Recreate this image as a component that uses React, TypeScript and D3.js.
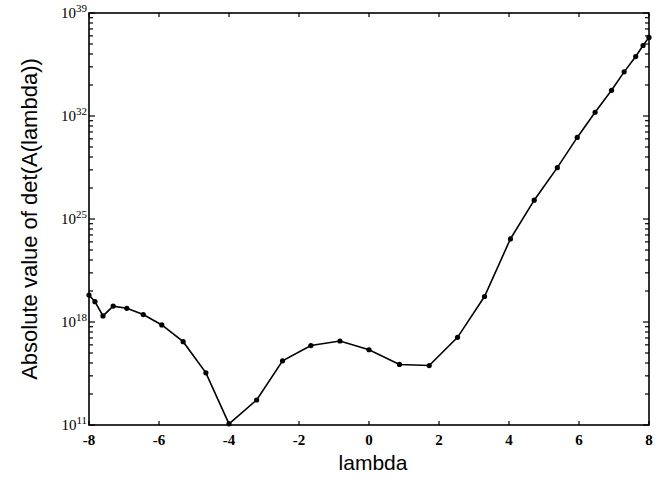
import React from "react";
import * as d3 from "d3";

const lambdaValues = [
  -8, -7.83, -7.6, -7.31, -6.92, -6.45, -5.92, -5.31, -4.66, -4,
  -3.21, -2.47, -1.66, -0.83, 0, 0.87, 1.72, 2.53, 3.3, 4.04,
  4.72, 5.38, 5.95, 6.46, 6.93, 7.29, 7.62, 7.83, 8,
];
const detValues = [
  6.8e19, 2.4e19, 2.6e18, 1.2e19, 8.5e18, 3.2e18, 6.3e17, 4.6e16, 3.5e14, 1.2e11,
  5.0e12, 2.3e15, 2.5e16, 5.1e16, 1.3e16, 1.3e15, 1.1e15, 9.1e16, 5.4e19, 4.4e23,
  1.9e26, 3.1e28, 3.5e30, 1.8e32, 5.6e33, 1.0e35, 1.1e36, 6.2e36, 2.2e37,
];
const xTicks = [-8, -6, -4, -2, 0, 2, 4, 6, 8];
const yTickExponents = [11, 18, 25, 32, 39];
const xLabel = "lambda";
const yLabel = "Absolute value of det(A(lambda))";

const W = 660;
const H = 477;
const M = { left: 89, right: 11, top: 13, bottom: 52 };

export default function App() {
  const x = d3.scaleLinear().domain([-8, 8]).range([M.left, W - M.right]);
  const y = d3.scaleLog().domain([1e11, 1e39]).range([H - M.bottom, M.top]);
  const line = d3
    .line<number>()
    .x((_, i) => x(lambdaValues[i]))
    .y((d) => y(d));

  const x0 = M.left, x1 = W - M.right, y0 = H - M.bottom, y1 = M.top;

  // minor ticks: MATLAB style log spacing within each major interval
  const minor: number[] = [];
  for (let j = 0; j < yTickExponents.length - 1; j++) {
    const a = y(Math.pow(10, yTickExponents[j]));
    const b = y(Math.pow(10, yTickExponents[j + 1]));
    for (let k = 2; k <= 9; k++) {
      minor.push(a + (b - a) * Math.log10(k));
    }
  }

  const serif = "'Liberation Serif', 'DejaVu Serif', serif";
  const sans = "'Liberation Sans', Arial, sans-serif";

  return (
    <svg
      width={W}
      height={H}
      style={{ position: "absolute", left: 0, top: 0, background: "#fff" }}
    >
      <rect x={0} y={0} width={W} height={H} fill="#fff" />
      {/* frame */}
      <rect x={x0} y={y1} width={x1 - x0} height={y0 - y1} fill="none" stroke="#000" strokeWidth={1.6} />
      {/* x ticks */}
      {xTicks.map((t) => (
        <g key={"xt" + t}>
          <line x1={x(t)} x2={x(t)} y1={y0} y2={y0 - 4} stroke="#000" strokeWidth={1.2} />
          <line x1={x(t)} x2={x(t)} y1={y1} y2={y1 + 4} stroke="#000" strokeWidth={1.2} />
          <text
            x={x(t)}
            y={y0 + 20}
            textAnchor="middle"
            fontFamily={serif}
            fontWeight="bold"
            fontSize={15}
            fill="#000"
          >
            {t < 0 ? "-" + Math.abs(t) : String(t)}
          </text>
        </g>
      ))}
      {/* y major ticks */}
      {yTickExponents.map((e) => {
        const yy = y(Math.pow(10, e));
        return (
          <g key={"yt" + e}>
            <line x1={x0} x2={x0 + 6} y1={yy} y2={yy} stroke="#000" strokeWidth={1.2} />
            <line x1={x1} x2={x1 - 6} y1={yy} y2={yy} stroke="#000" strokeWidth={1.2} />
            <text
              x={x0 - 2}
              y={yy + 5}
              textAnchor="end"
              fontFamily={serif}
              fontSize={15}
              fill="#000"
            >
              10
              <tspan fontSize={11} dy={-6}>
                {e}
              </tspan>
            </text>
          </g>
        );
      })}
      {/* y minor ticks */}
      {minor.map((yy, i) => (
        <g key={"ym" + i}>
          <line x1={x0} x2={x0 + 4} y1={yy} y2={yy} stroke="#000" strokeWidth={1.2} />
          <line x1={x1} x2={x1 - 4} y1={yy} y2={yy} stroke="#000" strokeWidth={1.2} />
        </g>
      ))}
      {/* data line */}
      <path d={line(detValues) || ""} fill="none" stroke="#000" strokeWidth={1.6} />
      {detValues.map((v, i) => (
        <circle key={"p" + i} cx={x(lambdaValues[i])} cy={y(v)} r={2.6} fill="#000" />
      ))}
      {/* axis labels */}
      <text
        x={373}
        y={470}
        textAnchor="middle"
        fontFamily={sans}
        fontSize={21}
        fill="#000"
      >
        {xLabel}
      </text>
      <text
        transform={`translate(37, ${(y0 + y1) / 2}) rotate(-90)`}
        textAnchor="middle"
        fontFamily={sans}
        fontSize={22}
        fill="#000"
      >
        {yLabel}
      </text>
    </svg>
  );
}
